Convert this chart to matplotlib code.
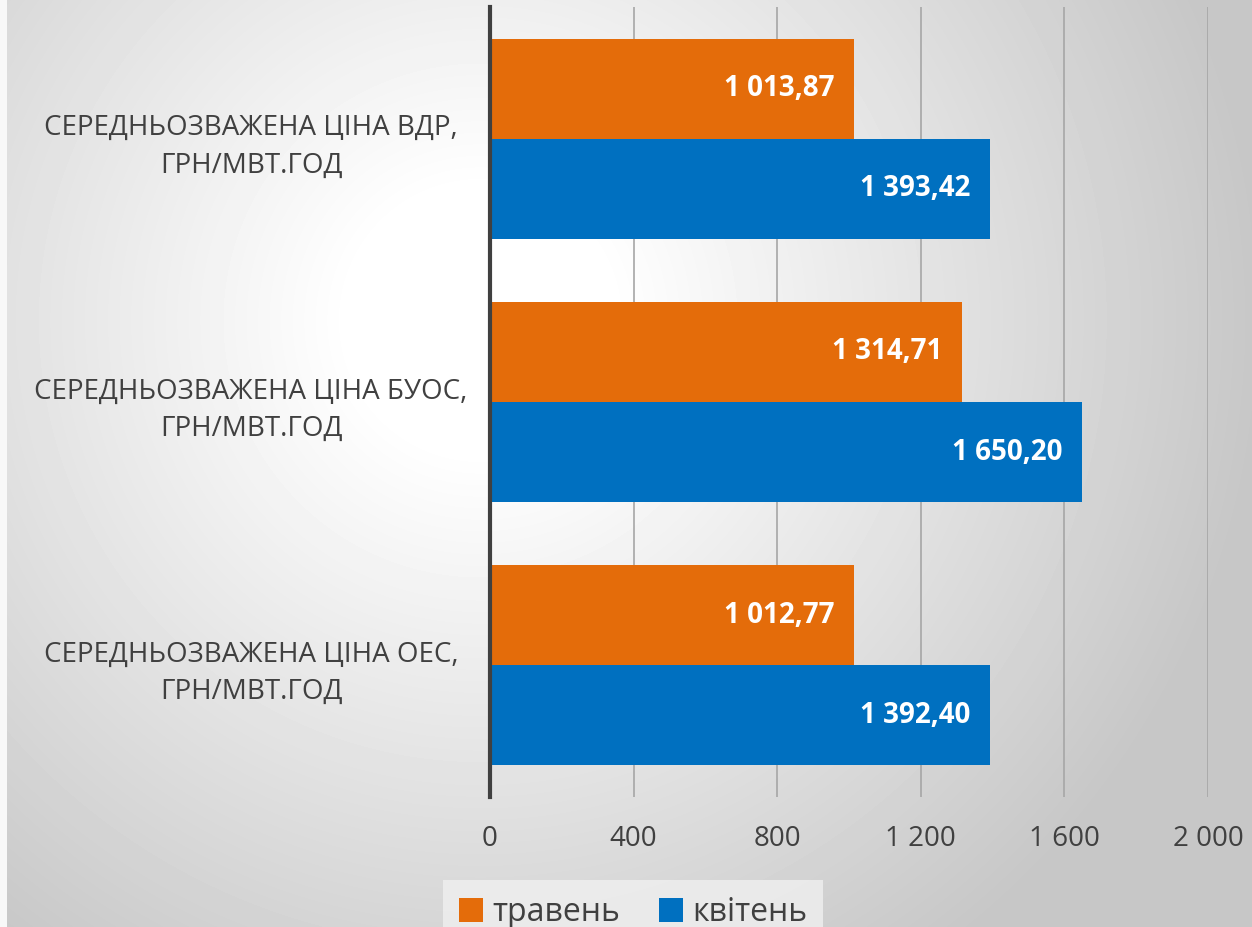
import matplotlib.pyplot as plt
import numpy as np

plt.rcParams['font.family'] = ['Open Sans', 'DejaVu Sans']

# Data
categories = ['СЕРЕДНЬОЗВАЖЕНА ЦІНА ВДР,\nГРН/МВТ.ГОД',
              'СЕРЕДНЬОЗВАЖЕНА ЦІНА БУОС,\nГРН/МВТ.ГОД',
              'СЕРЕДНЬОЗВАЖЕНА ЦІНА ОЕС,\nГРН/МВТ.ГОД']
may_values = [1013.87, 1314.71, 1012.77]
april_values = [1393.42, 1650.20, 1392.40]
series_names = ['травень', 'квітень']
x_ticks = [0, 400, 800, 1200, 1600, 2000]

orange = '#E46C0A'
blue = '#0070C0'


def fmt_num(v, decimals=2):
    s = f'{v:,.{decimals}f}'
    return s.replace(',', ' ').replace('.', ',')


W, H = 1252, 927
fig = plt.figure(figsize=(W / 100, H / 100), dpi=100)

# Radial gradient background
bg = fig.add_axes([0, 0, 1, 1], zorder=0)
yy, xx = np.mgrid[0:H, 0:W]
r = np.hypot(xx - 480, yy - 320)
t = np.clip((r - 130) / 650, 0, 1)
shade = 1.0 - 0.22 * t
shade[:, :7] = 0.97
bg.imshow(shade, cmap='gray', vmin=0, vmax=1, extent=[0, W, H, 0], aspect='auto')
bg.axis('off')

ax = fig.add_axes([490 / W, 1 - 797 / H, (1208 - 490) / W, (797 - 7) / H], zorder=1)
ax.patch.set_alpha(0)

y = np.arange(len(categories))
h = 0.38
bars_may = ax.barh(y - h / 2, may_values, h, color=orange, label=series_names[0], zorder=3)
bars_apr = ax.barh(y + h / 2, april_values, h, color=blue, label=series_names[1], zorder=3)

for bars, vals in ((bars_may, may_values), (bars_apr, april_values)):
    for b, v in zip(bars, vals):
        ax.annotate(fmt_num(v), xy=(v, b.get_y() + b.get_height() / 2),
                    xytext=(-14, 0), textcoords='offset points',
                    ha='right', va='center', color='white',
                    fontsize=20, fontweight='bold', zorder=4)

ax.set_xlim(0, 2000)
ax.set_ylim(len(categories) - 0.5, -0.5)
ax.set_xticks(x_ticks)
ax.set_xticklabels([fmt_num(v, 0) for v in x_ticks], fontsize=20, color='#404040')
ax.set_yticks(y)
ax.set_yticklabels(categories, fontsize=20, color='#404040', ha='center',
                   multialignment='center', linespacing=1.45)
ax.tick_params(axis='y', length=0, pad=172)
ax.tick_params(axis='x', length=0, pad=20)

ax.grid(axis='x', color='#a6a6a6', linewidth=1.2, zorder=1)
for s in ['top', 'right', 'bottom']:
    ax.spines[s].set_visible(False)
ax.spines['left'].set_color('#404040')
ax.spines['left'].set_linewidth(3)
ax.spines['left'].set_zorder(5)

leg = fig.legend(handles=[bars_may, bars_apr], labels=series_names,
                 loc='upper center', bbox_to_anchor=(633 / W, 1 - 880 / H),
                 ncol=2, frameon=True, fontsize=23, handlelength=0.75,
                 handleheight=0.75, handletextpad=0.3, columnspacing=1.2,
                 borderpad=0.5, borderaxespad=0, fancybox=False)
leg.get_frame().set_facecolor('#f0f0f0')
leg.get_frame().set_edgecolor('none')
for txt in leg.get_texts():
    txt.set_color('#404040')

fig.savefig('out.png', dpi=100)
